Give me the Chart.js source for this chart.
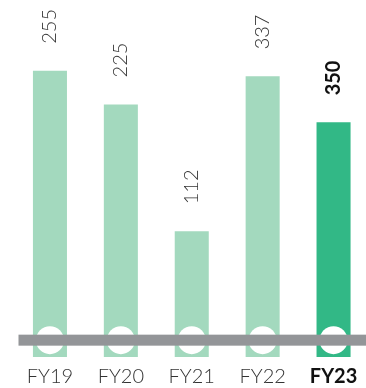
<!DOCTYPE html>
<html>
<head>
<meta charset="utf-8">
<script src="https://cdn.jsdelivr.net/npm/chart.js@4"></script>
<style>
    html, body { margin: 0; padding: 0; background: #ffffff; overflow: hidden; }
    #wrap { width: 369px; height: 388px; }
</style>
</head>
<body>
<div id="wrap"><canvas id="fyChart" width="369" height="388"></canvas></div>
<script>
// Datos
const years = ['FY19', 'FY20', 'FY21', 'FY22', 'FY23'];
const valueLabels = ['255', '225', '112', '337', '350'];
const barHeights = [255, 225, 112, 250, 209];
const baseValues = [15, 15, 15, 15, 15];

// Colores
const colors = {
    light: '#a3d9be',
    highlight: '#32b886',
    baseline: '#939598',
    text: '#333333',
    bold: '#111111'
};

const lastIndex = years.length - 1;
const fontFamily = 'Lato, "Open Sans", sans-serif';

// Línea gris y etiquetas rotadas
const decorPlugin = {
    id: 'decor',
    afterDatasetsDraw(chart) {
        const ctx = chart.ctx;
        const yScale = chart.scales.y;
        const area = chart.chartArea;
        const yLine = yScale.getPixelForValue(baseValues[0]);

        ctx.save();
        ctx.fillStyle = colors.baseline;
        ctx.fillRect(area.left + 4, yLine - 5.5, chart.width - area.left - 4, 11);

        const bars = chart.getDatasetMeta(1).data;
        bars.forEach((bar, i) => {
            ctx.save();
            ctx.translate(bar.x, bar.y - 27);
            ctx.rotate(-Math.PI / 2);
            ctx.textAlign = 'left';
            ctx.textBaseline = 'middle';
            const isLast = i === lastIndex;
            ctx.font = (isLast ? 'bold ' : '300 ') + '20px ' + fontFamily;
            ctx.fillStyle = isLast ? colors.bold : colors.text;
            ctx.fillText(valueLabels[i], 0, 0);
            ctx.restore();
        });
        ctx.restore();
    }
};

const ctx = document.getElementById('fyChart').getContext('2d');

new Chart(ctx, {
    type: 'bar',
    data: {
        labels: years,
        datasets: [{
            type: 'line',
            data: baseValues,
            showLine: false,
            pointRadius: 14,
            pointBackgroundColor: '#ffffff',
            pointBorderWidth: 0,
            order: 0
        }, {
            data: barHeights,
            backgroundColor: years.map((y, i) => i === lastIndex ? colors.highlight : colors.light),
            borderWidth: 0,
            barPercentage: 0.48,
            categoryPercentage: 1,
            order: 1
        }]
    },
    options: {
        responsive: false,
        animation: false,
        layout: {
            autoPadding: false,
            padding: { left: 14.5, right: 0, top: 0, bottom: 0 }
        },
        plugins: {
            legend: { display: false },
            tooltip: { enabled: false }
        },
        scales: {
            x: {
                grid: { display: false },
                border: { display: false },
                afterFit: (scale) => { scale.height = 31; },
                ticks: {
                    padding: 0,
                    color: (c) => c.index === lastIndex ? colors.bold : colors.text,
                    font: (c) => ({
                        family: fontFamily,
                        size: 20,
                        weight: c.index === lastIndex ? 'bold' : '300'
                    })
                }
            },
            y: {
                display: false,
                min: 0,
                max: 318
            }
        }
    },
    plugins: [decorPlugin]
});
</script>
</body>
</html>
